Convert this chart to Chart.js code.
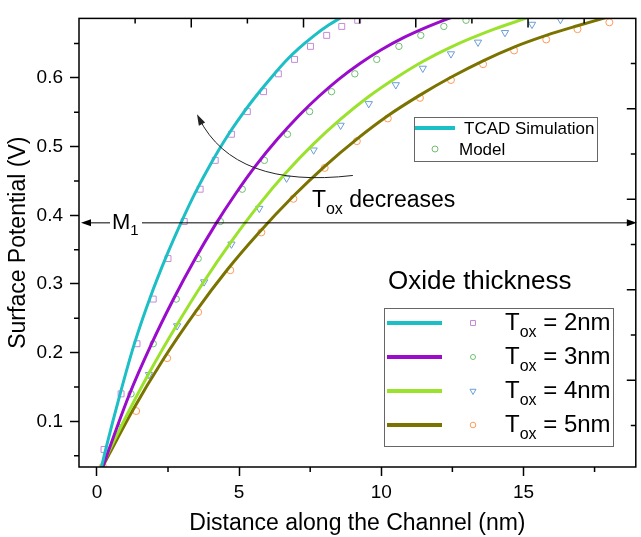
<!DOCTYPE html>
<html>
<head>
<meta charset="utf-8">
<script src="https://cdn.jsdelivr.net/npm/chart.js@4.4.0/dist/chart.umd.min.js"></script>
<style>
  html, body { margin: 0; padding: 0; background: #fff; }
</style>
</head>
<body>
<canvas id="potential" width="641" height="537"></canvas>
<script>
// ticks //
const xTickValues = [0, 5, 10, 15];
const yTickValues = [0.1, 0.2, 0.3, 0.4, 0.5, 0.6];
const xMinorTicks = [2.5, 7.5, 12.5, 17.5];
const yMinorTicks = [0.05, 0.15, 0.25, 0.35, 0.45, 0.55, 0.65];
const twinMax = 4.96; // unlabeled top / right axes

// TCAD simulation curves //
const tcad2X = [0, 0.32, 0.81, 1.31, 1.87, 2.47, 3.0, 3.46, 3.99, 4.55, 5.11, 5.68, 6.2, 6.65, 7.1, 7.65, 8.15, 8.75];
const tcad2Y = [0.005, 0.061, 0.139, 0.212, 0.280, 0.343, 0.393, 0.433, 0.474, 0.513, 0.547, 0.578, 0.604, 0.625, 0.643, 0.662, 0.677, 0.692];
const tcad3X = [0, 1.13, 1.90, 2.68, 3.46, 4.16, 4.87, 5.6, 6.35, 7.1, 7.8, 8.5, 9.25, 10.0, 10.8, 11.6, 12.45];
const tcad3Y = [0.010, 0.138, 0.211, 0.277, 0.337, 0.386, 0.431, 0.473, 0.511, 0.545, 0.573, 0.598, 0.621, 0.641, 0.659, 0.674, 0.688];
const tcad4X = [0, 0.88, 1.83, 2.82, 3.77, 4.73, 5.71, 6.67, 7.62, 8.57, 9.56, 10.51, 11.46, 12.45, 13.97, 15.1];
const tcad4Y = [0.020, 0.095, 0.170, 0.241, 0.304, 0.362, 0.416, 0.463, 0.504, 0.540, 0.573, 0.600, 0.624, 0.645, 0.671, 0.687];
const tcad5X = [0, 1.23, 2.33, 3.46, 4.59, 5.64, 6.91, 8.0, 9.14, 10.23, 11.36, 12.45, 13.58, 14.67, 15.8, 16.9, 17.74, 18.0];
const tcad5Y = [0.018, 0.114, 0.190, 0.259, 0.321, 0.372, 0.428, 0.471, 0.511, 0.545, 0.575, 0.601, 0.625, 0.645, 0.662, 0.676, 0.686, 0.689];

// model points //
const model2X = [0.25, 0.85, 1.41, 1.98, 2.50, 3.07, 3.63, 4.16, 4.73, 5.29, 5.86, 6.38, 6.95, 7.51, 8.08, 8.61, 9.17];
const model2Y = [0.059, 0.140, 0.213, 0.278, 0.337, 0.391, 0.438, 0.480, 0.518, 0.551, 0.580, 0.606, 0.627, 0.646, 0.662, 0.675, 0.684];
const model3X = [1.2, 1.98, 2.79, 3.56, 4.34, 5.11, 5.89, 6.70, 7.48, 8.25, 9.07, 9.84, 10.62, 11.39, 12.2, 12.98];
const model3Y = [0.140, 0.213, 0.278, 0.337, 0.391, 0.438, 0.480, 0.518, 0.551, 0.580, 0.606, 0.627, 0.646, 0.662, 0.675, 0.684];
const model4X = [0.88, 1.83, 2.82, 3.77, 4.73, 5.71, 6.67, 7.62, 8.57, 9.56, 10.51, 11.46, 12.45, 13.4, 14.35, 15.3, 16.3];
const model4Y = [0.092, 0.168, 0.239, 0.303, 0.358, 0.410, 0.454, 0.495, 0.531, 0.5625, 0.590, 0.614, 0.635, 0.652, 0.666, 0.678, 0.685];
const model5X = [0.21, 1.38, 2.47, 3.56, 4.69, 5.78, 6.91, 8.01, 9.14, 10.23, 11.36, 12.45, 13.58, 14.67, 15.8, 16.9, 18.02];
const model5Y = [0.034, 0.115, 0.192, 0.259, 0.320, 0.375, 0.424, 0.469, 0.508, 0.541, 0.571, 0.597, 0.620, 0.640, 0.656, 0.671, 0.681];

const toxLabels = ['2nm', '3nm', '4nm', '5nm'];

// styles //
const FONT = 'Arial, "Liberation Sans", sans-serif';
const lineColors = ['#1bbfc5', '#9a0bcb', '#9be22c', '#7b7300'];
const markerColors = ['#c48bd6', '#6fbf6f', '#6a9ed8', '#ff9a58'];
const markerStyles = ['rect', 'circle', 'triangle', 'circle'];
const markerRotation = [0, 0, 180, 0];
const markerRadius = [4.2, 3.2, 4.2, 3.5];

const xy = (xs, ys) => xs.map((v, i) => ({ x: v, y: ys[i] }));

const tcad = [[tcad2X, tcad2Y], [tcad3X, tcad3Y], [tcad4X, tcad4Y], [tcad5X, tcad5Y]];
const model = [[model2X, model2Y], [model3X, model3Y], [model4X, model4Y], [model5X, model5Y]];

const datasets = [];
tcad.forEach((s, i) => datasets.push({
  label: 'TCAD ' + toxLabels[i],
  data: xy(s[0], s[1]),
  borderColor: lineColors[i],
  borderWidth: 3,
  pointRadius: 0,
  cubicInterpolationMode: 'monotone',
  fill: false
}));
model.forEach((s, i) => datasets.push({
  label: 'Model ' + toxLabels[i],
  data: xy(s[0], s[1]),
  showLine: false,
  pointStyle: markerStyles[i],
  rotation: markerRotation[i],
  pointRadius: markerRadius[i],
  pointBorderWidth: 1,
  pointBorderColor: markerColors[i],
  pointBackgroundColor: 'rgba(0,0,0,0)'
}));

// annotation anchors, in data units //
const m1Level = 0.389;
const arrowPath = { from: [9.0, 0.458], ctrl: [4.85, 0.438], to: [3.52, 0.547] };
const toxNote = [7.56, 0.421];

function marker(ctx, style, rot, x, y, r, color) {
  ctx.save();
  ctx.strokeStyle = color;
  ctx.lineWidth = 1;
  ctx.beginPath();
  if (style === 'rect') {
    const s = r * Math.SQRT1_2;
    ctx.rect(x - s, y - s, 2 * s, 2 * s);
  } else if (style === 'triangle') {
    let a = rot * Math.PI / 180;
    ctx.moveTo(x + Math.sin(a) * r, y - Math.cos(a) * r);
    for (let k = 0; k < 2; k++) {
      a += 2 * Math.PI / 3;
      ctx.lineTo(x + Math.sin(a) * r, y - Math.cos(a) * r);
    }
    ctx.closePath();
  } else {
    ctx.arc(x, y, r, 0, 2 * Math.PI);
  }
  ctx.stroke();
  ctx.restore();
}

// text with subscript: main, sub, rest
function subText(ctx, main, sub, rest, x, y, size, subSize, drop) {
  ctx.textBaseline = 'middle';
  ctx.textAlign = 'left';
  ctx.font = size + 'px ' + FONT;
  ctx.fillText(main, x, y);
  x += ctx.measureText(main).width;
  ctx.font = subSize + 'px ' + FONT;
  ctx.fillText(sub, x, y + drop);
  x += ctx.measureText(sub).width;
  if (rest) {
    ctx.font = size + 'px ' + FONT;
    ctx.fillText(rest, x, y);
  }
}

function arrowHead(ctx, tx, ty, ang, len, half) {
  ctx.beginPath();
  ctx.moveTo(tx, ty);
  ctx.lineTo(tx - len * Math.cos(ang) + half * Math.sin(ang), ty - len * Math.sin(ang) - half * Math.cos(ang));
  ctx.lineTo(tx - len * Math.cos(ang) - half * Math.sin(ang), ty - len * Math.sin(ang) + half * Math.cos(ang));
  ctx.closePath();
  ctx.fill();
}

const decorations = {
  id: 'decorations',
  afterDraw(chart) {
    const { ctx, chartArea: a, scales: { x, y } } = chart;
    const w = a.right - a.left, h = a.bottom - a.top;
    ctx.save();

    // frame
    ctx.strokeStyle = '#000';
    ctx.lineWidth = 1.5;
    ctx.strokeRect(a.left, a.top, w, h);

    // minor ticks + twin axis ticks
    ctx.beginPath();
    yMinorTicks.forEach(v => { const p = y.getPixelForValue(v); ctx.moveTo(a.left - 5, p); ctx.lineTo(a.left, p); });
    xMinorTicks.forEach(v => { const p = x.getPixelForValue(v); ctx.moveTo(p, a.bottom); ctx.lineTo(p, a.bottom + 5); });
    for (let k = 1; k * 0.5 < twinMax; k++) {
      const len = k % 2 ? 5 : 9;
      const px = a.left + (k * 0.5 / twinMax) * w;
      ctx.moveTo(px, a.top); ctx.lineTo(px, a.top + len);
      const py = a.top + (k * 0.5 / twinMax) * h;
      ctx.moveTo(a.right, py); ctx.lineTo(a.right - len, py);
    }
    ctx.stroke();

    ctx.fillStyle = '#000';
    ctx.strokeStyle = '#000';

    // M1 level line
    const my = y.getPixelForValue(m1Level);
    ctx.lineWidth = 1;
    ctx.beginPath();
    ctx.moveTo(a.left + 6, my); ctx.lineTo(a.left + 31, my);
    ctx.moveTo(a.left + 63, my); ctx.lineTo(a.right - 6, my);
    ctx.stroke();
    arrowHead(ctx, a.left + 2, my, Math.PI, 10, 3.5);
    arrowHead(ctx, a.right + 1, my, 0, 10, 3.5);
    subText(ctx, 'M', '1', '', a.left + 33, my, 22, 15, 8);

    // curved arrow
    const P = p => [x.getPixelForValue(p[0]), y.getPixelForValue(p[1])];
    const p0 = P(arrowPath.from), c = P(arrowPath.ctrl), p2 = P(arrowPath.to);
    ctx.strokeStyle = '#222';
    ctx.fillStyle = '#222';
    ctx.beginPath();
    ctx.moveTo(p0[0], p0[1]);
    ctx.quadraticCurveTo(c[0], c[1], p2[0] + 2, p2[1] + 4);
    ctx.stroke();
    arrowHead(ctx, p2[0], p2[1], Math.atan2(p2[1] - c[1], p2[0] - c[0]), 11, 3.5);

    ctx.fillStyle = '#000';
    const tn = P(toxNote);
    subText(ctx, 'T', 'ox', ' decreases', tn[0], tn[1], 23, 16, 9);

    // legend: simulation vs model
    ctx.lineWidth = 1;
    ctx.strokeStyle = '#666';
    ctx.strokeRect(414.5, 117.5, 183, 44);
    ctx.strokeStyle = lineColors[0];
    ctx.lineWidth = 4;
    ctx.beginPath(); ctx.moveTo(415, 128); ctx.lineTo(455, 128); ctx.stroke();
    marker(ctx, 'circle', 0, 435, 149, 3, markerColors[1]);
    ctx.fillStyle = '#000';
    ctx.font = '17px ' + FONT;
    ctx.textBaseline = 'middle';
    ctx.textAlign = 'left';
    ctx.fillText('TCAD Simulation', 464, 129);
    ctx.fillText('Model', 459, 150);

    // legend: oxide thickness
    ctx.font = '26px ' + FONT;
    ctx.fillText('Oxide thickness', 388, 282);
    ctx.lineWidth = 1;
    ctx.strokeStyle = '#666';
    ctx.strokeRect(384.5, 308.5, 229, 138);
    toxLabels.forEach((lab, i) => {
      const ry = 323 + i * 34;
      ctx.strokeStyle = lineColors[i];
      ctx.lineWidth = 4;
      ctx.beginPath(); ctx.moveTo(387, ry); ctx.lineTo(442, ry); ctx.stroke();
      marker(ctx, markerStyles[i], markerRotation[i], 473, ry, markerRadius[i] - 0.7, markerColors[i]);
      ctx.fillStyle = '#000';
      subText(ctx, 'T', 'ox', ' = ' + lab, 505, ry, 24, 16, 10);
    });

    ctx.restore();
  }
};

Chart.defaults.font.family = FONT;
Chart.defaults.color = '#000';

new Chart(document.getElementById('potential'), {
  type: 'line',
  data: { datasets: datasets },
  options: {
    responsive: false,
    animation: false,
    layout: { padding: { top: 15, right: 5, left: 0, bottom: 0 } },
    plugins: { legend: { display: false }, tooltip: { enabled: false } },
    scales: {
      x: {
        type: 'linear',
        min: -0.63,
        max: 18.95,
        afterBuildTicks: s => { s.ticks = xTickValues.map(v => ({ value: v })); },
        afterFit: s => { s.height = 70; },
        ticks: { font: { size: 19 }, padding: 5, maxRotation: 0, callback: v => String(v) },
        grid: { drawOnChartArea: false, tickLength: 9, tickWidth: 1.5, tickColor: '#000' },
        border: { display: false },
        title: { display: true, text: 'Distance along the Channel (nm)', font: { size: 23 }, padding: { top: 0, bottom: 0 } }
      },
      y: {
        type: 'linear',
        min: 0.0335,
        max: 0.6867,
        afterBuildTicks: s => { s.ticks = yTickValues.map(v => ({ value: v })); },
        afterFit: s => { s.width = 79; },
        ticks: { font: { size: 19 }, padding: 7, callback: v => v.toFixed(1) },
        grid: { drawOnChartArea: false, tickLength: 9, tickWidth: 1.5, tickColor: '#000' },
        border: { display: false },
        title: { display: true, text: 'Surface Potential (V)', font: { size: 23 }, padding: { top: 5, bottom: 0 } }
      }
    }
  },
  plugins: [decorations]
});
</script>
</body>
</html>
